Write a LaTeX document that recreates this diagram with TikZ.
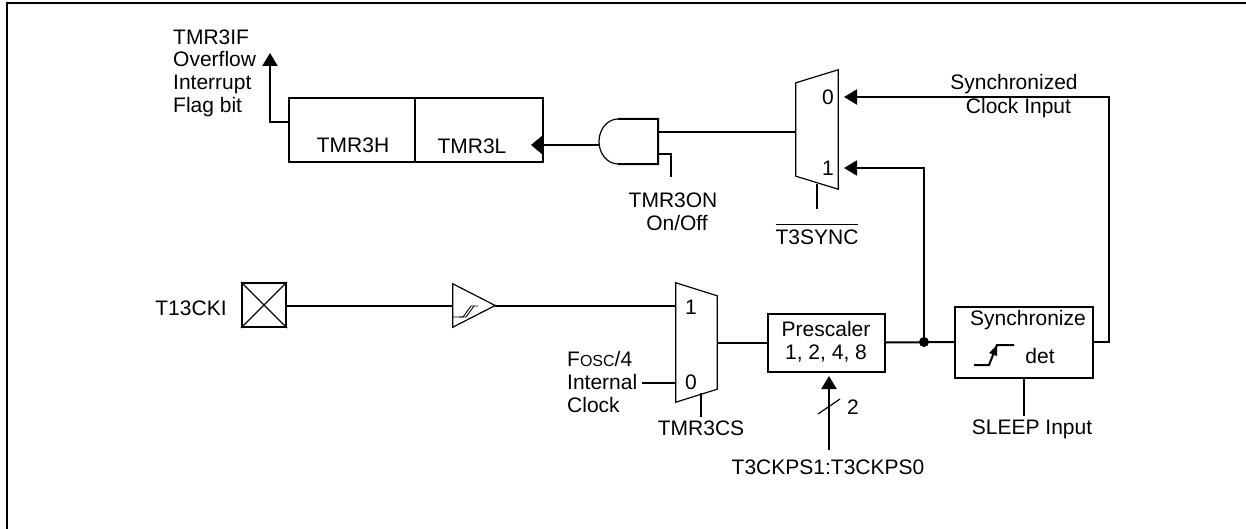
\documentclass[tikz,border=0pt]{standalone}
\usepackage{fontspec}
\setmainfont{Liberation Sans}
\usetikzlibrary{arrows.meta, positioning, calc}
\tikzset{
  caixa/.style={draw, line width=2pt, inner sep=0pt, align=center},
  rotulo/.style={inner sep=0pt, align=center},
  rotuloE/.style={inner sep=0pt, align=left},
  fio/.style={line width=2pt},
  seta/.style={-{Triangle[length=13pt, width=15pt]}, line width=2pt},
  fino/.style={line width=1.2pt},
  ancora/.style={inner sep=0pt, minimum width=0pt},
}
\begin{document}
\begin{tikzpicture}[x=1pt, y=-1pt, font=\fontsize{21}{22.6}\selectfont]
  \useasboundingbox (0,0) rectangle (1246,529);
  \draw[fio] (7,529) |- (1246,3);

  % registradores
  \node[caixa, minimum width=126pt, minimum height=64pt] (tmrh) at (352,130) {};
  \node[caixa, minimum width=128pt, minimum height=64pt, right=-2pt of tmrh] (tmrl) {};
  \node[rotulo] (tmrhtxt) at (353,145) {TMR3H};
  \node[rotulo] (tmrltxt) at (472,146) {TMR3L};
  \node[rotuloE, anchor=west] (flag) at (173,73) {TMR3IF\\Overflow\\Interrupt\\Flag bit};
  \coordinate (flagfim) at (270,53);
  \coordinate (tmrhsai) at (tmrh.west |- 0,122);
  \draw[seta] (tmrhsai) -| (flagfim);

  % porta
  \node[ancora, minimum width=59pt, minimum height=45pt] (porta) at (628.5,141.5) {};
  \draw[fio] (618,119) -- (porta.north east) -- (porta.south east) -- (618,164);
  \draw[fino] (618,119) arc (90:270:19pt and 22.5pt);
  \coordinate (portaent) at (599,145);
  \coordinate (tmrlent) at (543,145);
  \coordinate (tmrlptr) at (531,145);
  \draw[fio] (portaent) -- (tmrlent);
  \fill (tmrlent) ++(0,-10) -- (tmrlptr) -- ++(12,10) -- cycle;
  \coordinate (portaon) at (porta.east |- 0,154);
  \coordinate (onfim) at (671,177);
  \draw[fio] (portaon) -| (onfim);
  \node[rotulo] (onlbl) at (673,212) {TMR3ON\\\hspace*{8pt}On/Off};

  % mux de cima
  \node[ancora, minimum width=42pt, minimum height=119pt] (muxsync) at (817,129.5) {};
  \draw[fino] ($(muxsync.north west)+(0,13)$) -- (muxsync.north east) -- (muxsync.south east) -- ($(muxsync.south west)-(0,13)$) -- cycle;
  \node[rotulo] (muxs0) at (828,97) {0};
  \node[rotulo] (muxs1) at (828,168) {1};
  \coordinate (portasai) at (porta.east |- 0,132);
  \draw[fio] (portasai) -- (muxsync.west |- portasai);
  \coordinate (muxsent0) at (844,97);
  \coordinate (muxsent1) at (844,168);
  \coordinate (muxssel) at (817,184);
  \node[rotulo, below=39pt of muxssel] (syncn) {$\overline{\rule{0pt}{19.5pt}\hbox{T3SYNC}}$};
  \draw[fio] (muxssel) -- ++(0,25);
  \node[rotulo] (synclk) at (1014,96) {Synchronized\\[1.5pt]\hspace*{9pt}Clock Input};

  % entrada
  \node[rotulo] (t13) at (191,308) {T13CKI};
  \node[caixa, minimum size=44pt] (pino) at (264,305) {};
  \draw[fino] (pino.north west) -- (pino.south east) (pino.north east) -- (pino.south west);
  \node[ancora, minimum width=42pt, minimum height=43pt] (buf) at (474,305.5) {};
  \draw[fino] (buf.north west) -- (buf.east) -- (buf.south west) -- cycle;
  \draw[line width=0.9pt] (453,317) -- (463,317) -- (471,306) -- (478,306);
  \draw[line width=0.9pt] (459,317) -- (466,317) -- (474,306);
  \draw[fio] (pino.east |- buf) -- (buf.west);

  % mux de baixo
  \node[ancora, minimum width=41pt, minimum height=119pt] (muxclk) at (696.5,342.5) {};
  \draw[fino] (muxclk.north west) -- ($(muxclk.north east)+(0,13)$) -- ($(muxclk.south east)-(0,13)$) -- (muxclk.south west) -- cycle;
  \node[rotulo] (muxc1) at (691,307) {1};
  \node[rotulo] (muxc0) at (691,382) {0};
  \draw[fio] (buf.east) -- (muxclk.west |- buf.east);
  \node[rotuloE, anchor=west] (fosc) at (567,382) {F{\fontsize{16}{22}\selectfont OSC}/4\\Internal\\Clock};
  \coordinate (foscsai) at (642,383);
  \draw[fio] (foscsai) -- (muxclk.west |- foscsai);
  \coordinate (muxcsel) at (701,393);
  \node[rotulo, below=28pt of muxcsel] (csl) {TMR3CS};
  \draw[fio] (muxcsel) -- ++(0,24);

  % prescaler
  \node[caixa, minimum width=117pt, minimum height=58pt, right=50pt of muxclk] (presc) {};
  \node[rotulo] (presctxt) at (826,342) {Prescaler\\1, 2, 4, 8};
  \draw[fio] (muxclk.east) -- (presc.west);
  \node[rotulo] (kps) at (828,467) {T3CKPS1:T3CKPS0};
  \coordinate (kpsini) at (829,450);
  \coordinate (kpsfim) at (829,376);
  \draw[seta] (kpsini) -- (kpsfim);
  \coordinate (barra1) at (818,414);
  \coordinate (barra2) at (840,399);
  \draw[fino] (barra1) -- (barra2);
  \node[rotulo] (dois) at (853,407) {2};

  % sincronizador
  \node[caixa, minimum width=138pt, minimum height=71pt, anchor=west] (sync) at (954,342) {};
  \node[rotulo] (synctxt) at (1028,320) {Synchronize};
  \node[rotulo] (dettxt) at (1040,356) {det};
  \draw[fio] (974,365) -- (989,365) -- (997,345) -- (1014,345);
  \fill (997,345) -- ++(-8,8) -- ++(8,3) -- cycle;
  \node[rotulo] (sleep) at (1032,429) {SLEEP Input};
  \coordinate (sleepini) at (1024,416);
  \draw[fio] (sleepini) -- (sync.south -| sleepini);
  \draw[fio] (presc.east) -- (sync.west);
  \coordinate (juncao) at (924,342);
  \fill (juncao) circle (5pt);
  \draw[seta] (juncao) |- (muxsent1);
  \coordinate (voltasync) at (1109,342);
  \draw[seta] (sync.east) -- (voltasync) |- (muxsent0);
\end{tikzpicture}
\end{document}
